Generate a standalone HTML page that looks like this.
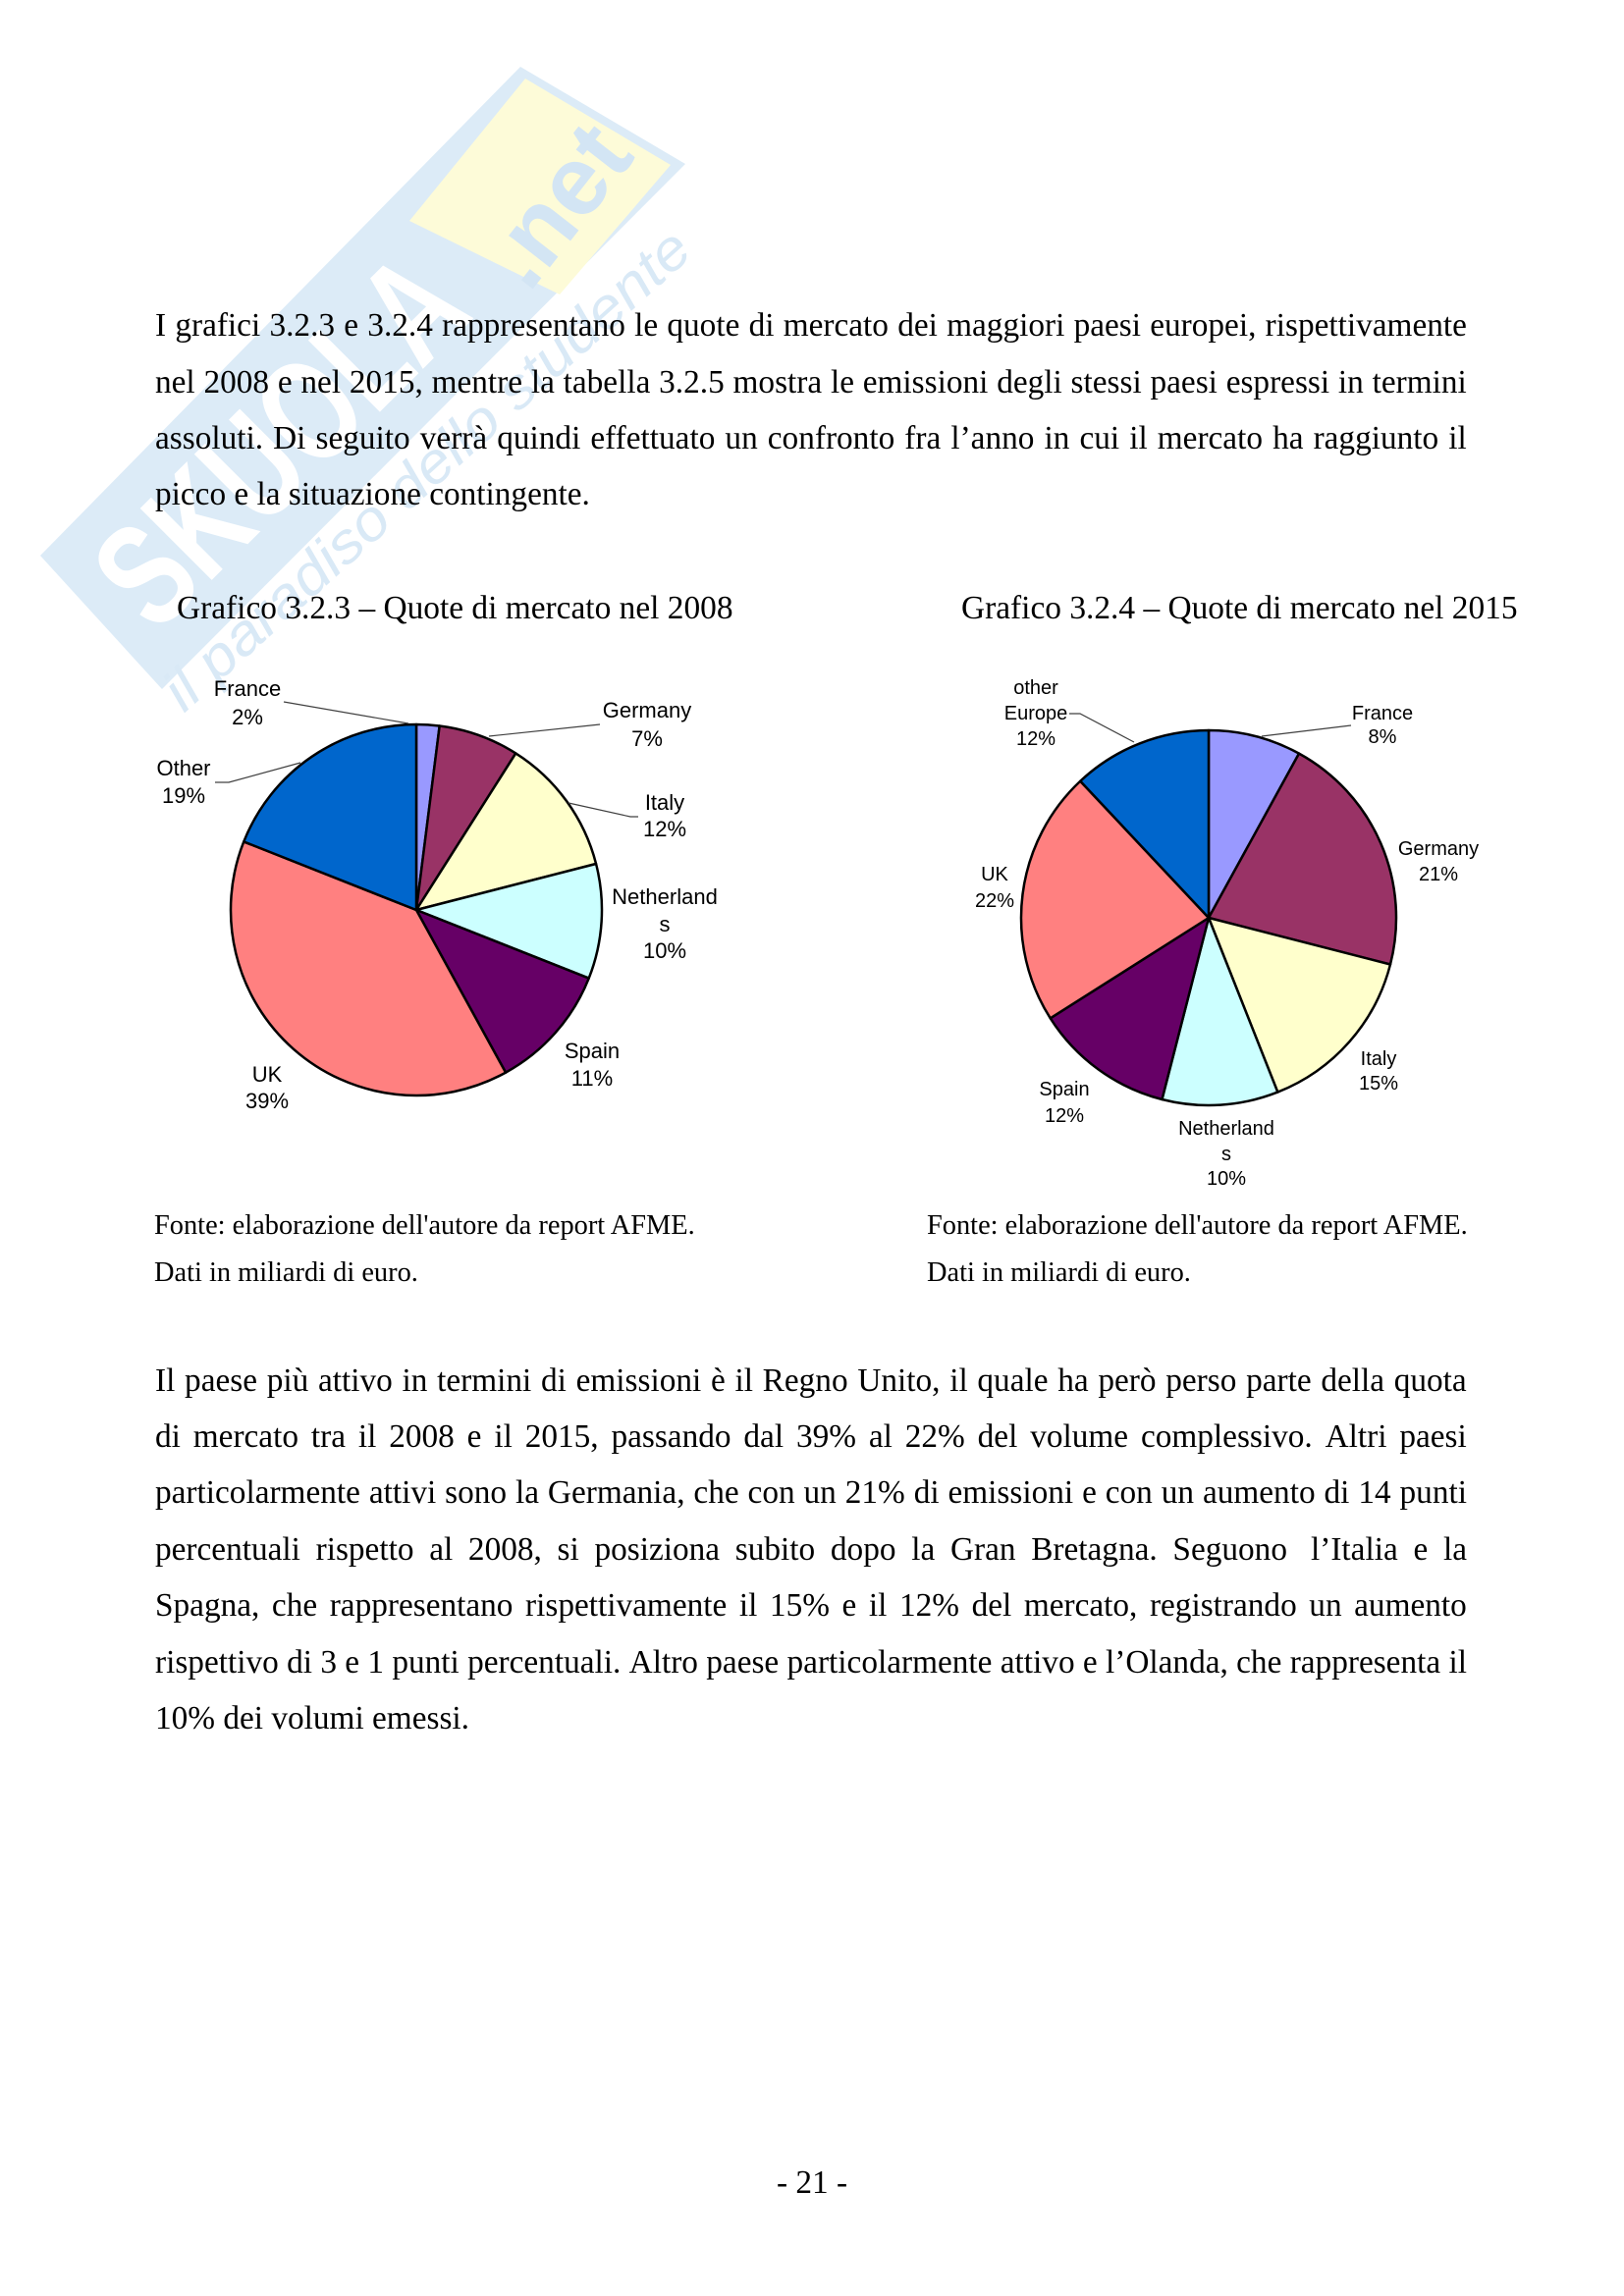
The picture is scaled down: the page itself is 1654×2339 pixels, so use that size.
<!DOCTYPE html>
<html>
<head>
<meta charset="utf-8">
<style>
  html,body{margin:0;padding:0;background:#fff;}
  #page{position:relative;width:1654px;height:2339px;overflow:hidden;background:#fff;}
  svg.layer{position:absolute;left:0;top:0;}
  .j{position:absolute;left:158px;width:1336px;display:flex;justify-content:space-between;
     font-family:"Liberation Serif",serif;font-size:33.3px;line-height:33px;white-space:nowrap;color:#000;}
  .l{position:absolute;left:158px;font-family:"Liberation Serif",serif;font-size:33.3px;line-height:33px;white-space:nowrap;color:#000;}
</style>
</head>
<body>
<div id="page">
<svg class="layer" width="1654" height="2339" viewBox="0 0 1654 2339" xmlns="http://www.w3.org/2000/svg">
  <!-- watermark -->
  <g>
    <polygon points="41,566 530,68 698,167 165,702" fill="#dcebf7"/>
    <polygon points="417,225 535,80 683,168 570,300" fill="#fdfbd8"/>
    <g transform="translate(285,448) rotate(-45)">
      <text x="0" y="52" text-anchor="middle" font-family="Liberation Sans, sans-serif" font-weight="bold" font-size="150" textLength="460" lengthAdjust="spacingAndGlyphs" fill="#ffffff">SKUOLA</text>
    </g>
    <g transform="translate(568,210) rotate(-52)">
      <text x="0" y="32" text-anchor="middle" font-family="Liberation Sans, sans-serif" font-weight="bold" font-size="100" fill="#d3e5f4">.net</text>
    </g>
    <g transform="translate(434,478) rotate(-42)">
      <text x="0" y="20" text-anchor="middle" font-family="Liberation Sans, sans-serif" font-style="italic" font-size="58" textLength="700" lengthAdjust="spacingAndGlyphs" fill="#d9e9f6">il paradiso dello studente</text>
    </g>
  </g>

  <!-- titles -->
  <text x="180" y="630" font-family="Liberation Serif, serif" font-size="33.4" fill="#000">Grafico 3.2.3 – Quote di mercato nel 2008</text>
  <text x="979" y="630" font-family="Liberation Serif, serif" font-size="33.4" fill="#000">Grafico 3.2.4 – Quote di mercato nel 2015</text>

  <!-- pie 1 -->
  <g stroke="#000" stroke-width="2.5" stroke-linejoin="round">
    <path d="M424,927 L424,738 A189,189 0 0 1 447.69,739.49 Z" fill="#9999FF"/>
    <path d="M424,927 L447.69,739.49 A189,189 0 0 1 525.27,767.42 Z" fill="#993366"/>
    <path d="M424,927 L525.27,767.42 A189,189 0 0 1 607.06,880.00 Z" fill="#FFFFCC"/>
    <path d="M424,927 L607.06,880.00 A189,189 0 0 1 599.73,996.57 Z" fill="#CCFFFF"/>
    <path d="M424,927 L599.73,996.57 A189,189 0 0 1 515.05,1092.62 Z" fill="#660066"/>
    <path d="M424,927 L515.05,1092.62 A189,189 0 0 1 248.27,857.43 Z" fill="#FF8080"/>
    <path d="M424,927 L248.27,857.43 A189,189 0 0 1 424,738 Z" fill="#0066CC"/>
  </g>
  <g stroke="#404040" stroke-width="1.2" fill="none">
    <polyline points="289,715 416,737"/>
    <polyline points="611,738 498,750"/>
    <polyline points="219,797 233,797 306,777"/>
    <polyline points="650,832 642,832 579,818"/>
  </g>
  <g font-family="Liberation Sans, Arial, sans-serif" font-size="22" fill="#000" text-anchor="middle">
    <text x="252" y="709">France</text><text x="252" y="738">2%</text>
    <text x="659" y="731">Germany</text><text x="659" y="760">7%</text>
    <text x="187" y="790">Other</text><text x="187" y="818">19%</text>
    <text x="677" y="825">Italy</text><text x="677" y="852">12%</text>
    <text x="677" y="921">Netherland</text><text x="677" y="949">s</text><text x="677" y="976">10%</text>
    <text x="603" y="1078">Spain</text><text x="603" y="1106">11%</text>
    <text x="272" y="1102">UK</text><text x="272" y="1129">39%</text>
  </g>

  <!-- pie 2 -->
  <g stroke="#000" stroke-width="2.5" stroke-linejoin="round">
    <path d="M1231,935 L1231,744 A191,191 0 0 1 1323.01,767.62 Z" fill="#9999FF"/>
    <path d="M1231,935 L1323.01,767.62 A191,191 0 0 1 1416.00,982.50 Z" fill="#993366"/>
    <path d="M1231,935 L1416.00,982.50 A191,191 0 0 1 1301.31,1112.59 Z" fill="#FFFFCC"/>
    <path d="M1231,935 L1301.31,1112.59 A191,191 0 0 1 1183.50,1120.00 Z" fill="#CCFFFF"/>
    <path d="M1231,935 L1183.50,1120.00 A191,191 0 0 1 1069.73,1037.34 Z" fill="#660066"/>
    <path d="M1231,935 L1069.73,1037.34 A191,191 0 0 1 1100.25,795.77 Z" fill="#FF8080"/>
    <path d="M1231,935 L1100.25,795.77 A191,191 0 0 1 1231,744 Z" fill="#0066CC"/>
  </g>
  <g stroke="#404040" stroke-width="1.2" fill="none">
    <polyline points="1089,727 1100,727 1155,756"/>
    <polyline points="1376,739 1285,750"/>
  </g>
  <g font-family="Liberation Sans, Arial, sans-serif" font-size="20" fill="#000" text-anchor="middle">
    <text x="1055" y="707">other</text><text x="1055" y="733">Europe</text><text x="1055" y="759">12%</text>
    <text x="1408" y="733">France</text><text x="1408" y="757">8%</text>
    <text x="1465" y="871">Germany</text><text x="1465" y="897">21%</text>
    <text x="1013" y="897">UK</text><text x="1013" y="924">22%</text>
    <text x="1404" y="1085">Italy</text><text x="1404" y="1110">15%</text>
    <text x="1084" y="1116">Spain</text><text x="1084" y="1143">12%</text>
    <text x="1249" y="1156">Netherland</text><text x="1249" y="1182">s</text><text x="1249" y="1207">10%</text>
  </g>

  <!-- captions -->
  <g font-family="Liberation Serif, serif" font-size="28.4" fill="#000">
    <text x="157" y="1257">Fonte: elaborazione dell'autore da report AFME.</text>
    <text x="157" y="1305">Dati in miliardi di euro.</text>
    <text x="944" y="1257">Fonte: elaborazione dell'autore da report AFME.</text>
    <text x="944" y="1305">Dati in miliardi di euro.</text>
  </g>

  <!-- page number -->
  <text x="827" y="2234" text-anchor="middle" font-family="Liberation Serif, serif" font-size="33.3" fill="#000">- 21 -</text>
</svg>

<!-- paragraph 1 -->
<div class="j" style="top:315px"><span>I</span><span>grafici</span><span>3.2.3</span><span>e</span><span>3.2.4</span><span>rappresentano</span><span>le</span><span>quote</span><span>di</span><span>mercato</span><span>dei</span><span>maggiori</span><span>paesi</span><span>europei,</span><span>rispettivamente</span></div>
<div class="j" style="top:373px"><span>nel</span><span>2008</span><span>e</span><span>nel</span><span>2015,</span><span>mentre</span><span>la</span><span>tabella</span><span>3.2.5</span><span>mostra</span><span>le</span><span>emissioni</span><span>degli</span><span>stessi</span><span>paesi</span><span>espressi</span><span>in</span><span>termini</span></div>
<div class="j" style="top:430px"><span>assoluti.</span><span>Di</span><span>seguito</span><span>verrà</span><span>quindi</span><span>effettuato</span><span>un</span><span>confronto</span><span>fra</span><span>l’anno</span><span>in</span><span>cui</span><span>il</span><span>mercato</span><span>ha</span><span>raggiunto</span><span>il</span></div>
<div class="l" style="top:487px">picco e la situazione contingente.</div>

<!-- paragraph 2 -->
<div class="j" style="top:1389.5px"><span>Il</span><span>paese</span><span>più</span><span>attivo</span><span>in</span><span>termini</span><span>di</span><span>emissioni</span><span>è</span><span>il</span><span>Regno</span><span>Unito,</span><span>il</span><span>quale</span><span>ha</span><span>però</span><span>perso</span><span>parte</span><span>della</span><span>quota</span></div>
<div class="j" style="top:1446.9px"><span>di</span><span>mercato</span><span>tra</span><span>il</span><span>2008</span><span>e</span><span>il</span><span>2015,</span><span>passando</span><span>dal</span><span>39%</span><span>al</span><span>22%</span><span>del</span><span>volume</span><span>complessivo.</span><span>Altri</span><span>paesi</span></div>
<div class="j" style="top:1504.3px"><span>particolarmente</span><span>attivi</span><span>sono</span><span>la</span><span>Germania,</span><span>che</span><span>con</span><span>un</span><span>21%</span><span>di</span><span>emissioni</span><span>e</span><span>con</span><span>un</span><span>aumento</span><span>di</span><span>14</span><span>punti</span></div>
<div class="j" style="top:1561.7px"><span>percentuali</span><span>rispetto</span><span>al</span><span>2008,</span><span>si</span><span>posiziona</span><span>subito</span><span>dopo</span><span>la</span><span>Gran</span><span>Bretagna.</span><span>Seguono&nbsp;</span><span>l’Italia</span><span>e</span><span>la</span></div>
<div class="j" style="top:1619.1px"><span>Spagna,</span><span>che</span><span>rappresentano</span><span>rispettivamente</span><span>il</span><span>15%</span><span>e</span><span>il</span><span>12%</span><span>del</span><span>mercato,</span><span>registrando</span><span>un</span><span>aumento</span></div>
<div class="j" style="top:1676.5px"><span>rispettivo</span><span>di</span><span>3</span><span>e</span><span>1</span><span>punti</span><span>percentuali.</span><span>Altro</span><span>paese</span><span>particolarmente</span><span>attivo</span><span>e</span><span>l’Olanda,</span><span>che</span><span>rappresenta</span><span>il</span></div>
<div class="l" style="top:1733.9px">10% dei volumi emessi.</div>

</div>
</body>
</html>
